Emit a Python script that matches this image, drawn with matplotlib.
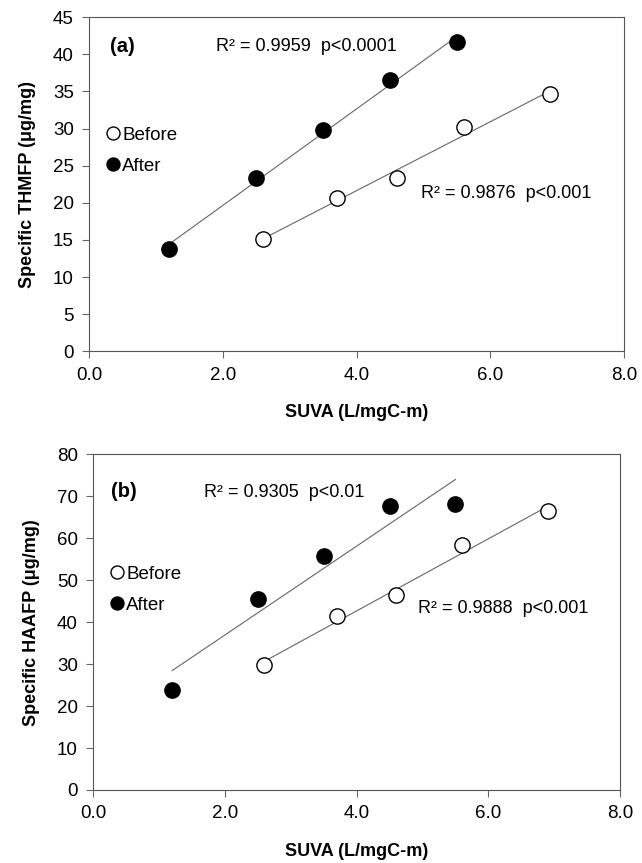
import numpy as np
import matplotlib
matplotlib.use("Agg")
import matplotlib.pyplot as plt

plt.rcParams['font.family'] = ['Liberation Sans', 'DejaVu Sans']

# panel (a) THMFP
suva_after_a = [1.2, 2.5, 3.5, 4.5, 5.5]
thm_after = [13.8, 23.4, 29.8, 36.5, 41.6]
suva_before_a = [2.6, 3.7, 4.6, 5.6, 6.9]
thm_before = [15.1, 20.6, 23.4, 30.2, 34.7]

# panel (b) HAAFP
suva_after_b = [1.2, 2.5, 3.5, 4.5, 5.5]
haa_after = [23.8, 45.5, 55.8, 67.6, 68.2]
suva_before_b = [2.6, 3.7, 4.6, 5.6, 6.9]
haa_before = [29.8, 41.4, 46.5, 58.4, 66.5]

fig = plt.figure(figsize=(6.42, 8.63), dpi=100)
ax1 = fig.add_axes([0.139, 0.593, 0.833, 0.387])
ax2 = fig.add_axes([0.145, 0.0846, 0.821, 0.389])


def fit_line(ax, x, y):
    k, b = np.polyfit(x, y, 1)
    xs = np.array([min(x), max(x)])
    ax.plot(xs, k * xs + b, color='#666666', lw=0.8, zorder=1)


def panel(ax, xa, ya, xb, yb, ymax, ystep, ylabel, tag, txt1, pos1, txt2, pos2, tagpos, legy):
    fit_line(ax, xa, ya)
    fit_line(ax, xb, yb)
    ax.plot(xb, yb, 'o', ms=11, mfc='white', mec='black', mew=1.0, ls='none', label='Before', zorder=3)
    ax.plot(xa, ya, 'o', ms=11, mfc='black', mec='black', ls='none', label='After', zorder=3)
    ax.set_xlim(0, 8)
    ax.set_ylim(0, ymax)
    ax.set_xticks(np.arange(0, 8.1, 2))
    ax.set_xticklabels(['%.1f' % v for v in np.arange(0, 8.1, 2)])
    ax.set_yticks(np.arange(0, ymax + 0.1, ystep))
    ax.tick_params(labelsize=13.5, direction='out', length=5, color='#666666', pad=6)
    for s in ax.spines.values():
        s.set_color('#555555')
    ax.set_xlabel('SUVA (L/mgC-m)', fontsize=13, fontweight='bold', labelpad=15)
    ax.set_ylabel(ylabel, fontsize=13, fontweight='bold', labelpad=12)
    ax.text(tagpos[0], tagpos[1], tag, fontsize=14.5, fontweight='bold', va='center')
    ax.text(pos1[0], pos1[1], txt1, fontsize=13, va='center')
    ax.text(pos2[0], pos2[1], txt2, fontsize=13, va='center')
    leg = ax.legend(loc='center left', bbox_to_anchor=(0.018, legy), frameon=False,
                    fontsize=13.5, handlelength=0.7, handletextpad=0.15, labelspacing=0.75,
                    borderaxespad=0, markerscale=0.85)


panel(ax1, suva_after_a, thm_after, suva_before_a, thm_before, 45, 5,
      'Specific THMFP (μg/mg)', '(a)', 'R² = 0.9959  p<0.0001', (1.9, 41.0),
      'R² = 0.9876  p<0.001', (4.97, 21.3), (0.31, 41.0), 0.6)
panel(ax2, suva_after_b, haa_after, suva_before_b, haa_before, 80, 10,
      'Specific HAAFP (μg/mg)', '(b)', 'R² = 0.9305  p<0.01', (1.69, 71.0),
      'R² = 0.9888  p<0.001', (4.93, 43.3), (0.27, 71.2), 0.597)

fig.savefig('out.png', dpi=100)
